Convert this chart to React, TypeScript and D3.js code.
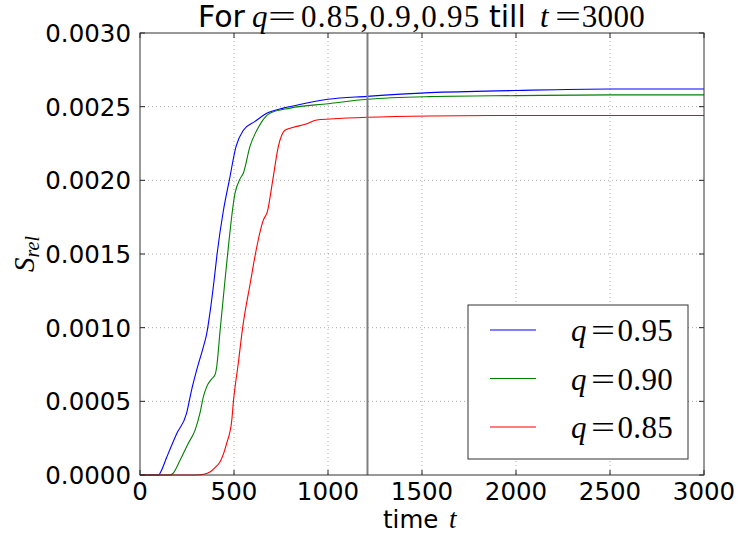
import React from "react";
import * as d3 from "d3";

// S_rel vs time for three q values
const blueT = [0, 100, 110, 142, 195, 248, 275, 301, 337, 355, 372, 394, 410, 443, 475, 511, 550, 612, 674, 762, 868, 1000, 1208, 1543, 2000, 2500, 3000];
const blueV = [0, 0, 0.00002, 0.00012, 0.00028, 0.00042, 0.00058, 0.00071, 0.00087, 0.00096, 0.0011, 0.00132, 0.0015, 0.00179, 0.002, 0.00223, 0.00234, 0.0024, 0.002455, 0.00249, 0.00252, 0.00255, 0.00257, 0.002595, 0.00261, 0.00262, 0.00262];

const greenT = [0, 160, 175, 213, 257, 293, 319, 337, 355, 380, 399, 408, 426, 452, 463, 505, 532, 550, 585, 630, 691, 798, 1000, 1208, 1543, 2000, 2500, 3000];
const greenV = [0, 0, 0.00001, 0.0001, 0.000215, 0.000305, 0.00042, 0.00053, 0.0006, 0.00065, 0.00068, 0.000735, 0.00098, 0.00132, 0.00146, 0.00191, 0.00201, 0.00205, 0.00223, 0.00236, 0.002455, 0.00249, 0.00252, 0.00255, 0.002568, 0.002575, 0.00258, 0.00258];

const redT = [0, 300, 340, 372, 399, 426, 461, 488, 497, 523, 546, 589, 608, 656, 678, 706, 736, 771, 816, 878, 940, 1011, 1208, 1543, 2000, 3000];
const redV = [0, 0, 0.000005, 0.00002, 0.00005, 0.00009, 0.000215, 0.00037, 0.0005, 0.00076, 0.001, 0.00132, 0.00146, 0.00173, 0.00179, 0.002, 0.00223, 0.00234, 0.00236, 0.00238, 0.00241, 0.002416, 0.002428, 0.002437, 0.00244, 0.00244];

const xTicks = [0, 500, 1000, 1500, 2000, 2500, 3000];
const yTicks = [0, 0.0005, 0.001, 0.0015, 0.002, 0.0025, 0.003];
const yTickLabels = ["0.0000", "0.0005", "0.0010", "0.0015", "0.0020", "0.0025", "0.0030"];
const markerT = 1210;

const series = [
  { label: "0.95", color: "#0000ff", t: blueT, v: blueV },
  { label: "0.90", color: "#008000", t: greenT, v: greenV },
  { label: "0.85", color: "#ff0000", t: redT, v: redV },
];

const W = 741;
const H = 537;
const M = { left: 140, right: 704, top: 33, bottom: 475 };
const SANS = "DejaVu Sans";
const SERIF = "Liberation Serif";

// a wide, thin equals sign in the style of TeX math
function Eq({ x, y, w, size }: { x: number; y: number; w: number; size: number }) {
  return (
    <text x={x} y={y} fontFamily={SERIF} fontSize={size} textLength={w} lengthAdjust="spacingAndGlyphs" fill="#000">
      =
    </text>
  );
}

export default function App() {
  const x = d3.scaleLinear().domain([0, 3000]).range([M.left, M.right]);
  const y = d3.scaleLinear().domain([0, 0.003]).range([M.bottom, M.top]);
  const line = d3
    .line<[number, number]>()
    .x((d) => x(d[0]))
    .y((d) => y(d[1]))
    .curve(d3.curveMonotoneX);

  const tickLen = 5;

  return (
    <svg width={W} height={H} style={{ position: "absolute", left: 0, top: 0 }} xmlns="http://www.w3.org/2000/svg">
      <rect width={W} height={H} fill="#fff" />
      {/* grid */}
      <g stroke="#000" strokeWidth={0.6} strokeDasharray="1,3" opacity={0.55}>
        {xTicks.slice(1, -1).map((t) => (
          <line key={"gx" + t} x1={x(t)} x2={x(t)} y1={M.top} y2={M.bottom} />
        ))}
        {yTicks.slice(1, -1).map((v) => (
          <line key={"gy" + v} x1={M.left} x2={M.right} y1={y(v)} y2={y(v)} />
        ))}
      </g>
      {/* curves */}
      {series.map((s) => (
        <path
          key={s.label}
          d={line(s.t.map((t, i) => [t, s.v[i]] as [number, number])) || ""}
          fill="none"
          stroke={s.color}
          strokeWidth={1.1}
        />
      ))}
      {/* vertical marker */}
      <line x1={x(markerT)} x2={x(markerT)} y1={M.top} y2={M.bottom} stroke="#7f7f7f" strokeWidth={2} />
      {/* ticks */}
      <g stroke="#222" strokeWidth={1}>
        {xTicks.map((t) => (
          <g key={"tx" + t}>
            <line x1={x(t)} x2={x(t)} y1={M.bottom} y2={M.bottom - tickLen} />
            <line x1={x(t)} x2={x(t)} y1={M.top} y2={M.top + tickLen} />
          </g>
        ))}
        {yTicks.map((v) => (
          <g key={"ty" + v}>
            <line x1={M.left} x2={M.left + tickLen} y1={y(v)} y2={y(v)} />
            <line x1={M.right} x2={M.right - tickLen} y1={y(v)} y2={y(v)} />
          </g>
        ))}
      </g>
      {/* frame */}
      <rect x={M.left} y={M.top} width={M.right - M.left} height={M.bottom - M.top} fill="none" stroke="#333" strokeWidth={1} />
      {/* tick labels */}
      <g fontFamily={SANS} fontSize={24.5} fill="#000">
        {xTicks.map((t) => (
          <text key={"lx" + t} x={x(t)} y={M.bottom + 25} textAnchor="middle">
            {t}
          </text>
        ))}
        {yTicks.map((v, i) => (
          <text key={"ly" + v} x={M.left - 9} y={y(v) + 9} textAnchor="end">
            {yTickLabels[i]}
          </text>
        ))}
      </g>
      {/* title */}
      <text x={198} y={27} fontFamily={SANS} fontSize={30} fill="#000">For</text>
      <text x={252} y={27} fontFamily={SERIF} fontStyle="italic" fontSize={31} fill="#000">q</text>
      <Eq x={268} y={27} w={28} size={31} />
      <text x={301} y={27} fontFamily={SERIF} fontSize={31} letterSpacing={1.3} fill="#000">0.85,0.9,0.95</text>
      <text x={489} y={27} fontFamily={SANS} fontSize={30} fill="#000">till</text>
      <text x={540} y={27} fontFamily={SERIF} fontStyle="italic" fontSize={31} fill="#000">t</text>
      <Eq x={555} y={27} w={26} size={31} />
      <text x={645} y={27} textAnchor="end" fontFamily={SERIF} fontSize={31} letterSpacing={0.3} fill="#000">3000</text>
      {/* x label */}
      <text y={528} fontSize={24.5} fill="#000">
        <tspan x={383} fontFamily={SANS}>time</tspan>
        <tspan x={449} fontFamily={SERIF} fontStyle="italic" fontSize={27}>t</tspan>
      </text>
      {/* y label */}
      <text transform={`translate(34,${(M.top + M.bottom) / 2}) rotate(-90)`} textAnchor="middle" fontFamily={SERIF} fill="#000">
        <tspan fontStyle="italic" fontSize={29}>S</tspan>
        <tspan fontStyle="italic" fontSize={20} dy={5}>rel</tspan>
      </text>
      {/* legend */}
      <rect x={468} y={305} width={220} height={154} fill="#fff" stroke="#333" strokeWidth={1} />
      {series.map((s, i) => {
        const ly = 330 + i * 48.5;
        return (
          <g key={"lg" + s.label}>
            <line x1={490} x2={536} y1={ly} y2={ly} stroke={s.color} strokeWidth={1.1} />
            <text x={571} y={ly + 11} fontFamily={SERIF} fontStyle="italic" fontSize={31} fill="#000">q</text>
            <Eq x={591} y={ly + 11} w={24} size={31} />
            <text x={673} y={ly + 11} textAnchor="end" fontFamily={SERIF} fontSize={31} letterSpacing={0.3} fill="#000">
              {s.label}
            </text>
          </g>
        );
      })}
    </svg>
  );
}
